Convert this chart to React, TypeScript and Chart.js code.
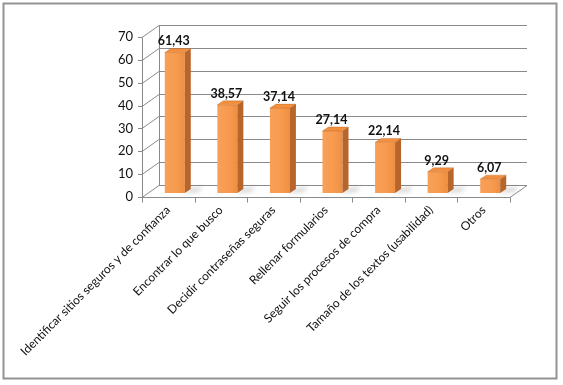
import React, { useEffect, useRef } from "react";
import { Chart, registerables } from "chart.js";

Chart.register(...registerables);

const categories = [
  "Identificar sitios seguros y de confianza",
  "Encontrar lo que busco",
  "Decidir contraseñas seguras",
  "Rellenar formularios",
  "Seguir los procesos de compra",
  "Tamaño de los textos (usabilidad)",
  "Otros",
];
const values = [61.43, 38.57, 37.14, 27.14, 22.14, 9.29, 6.07];
const valueLabels = ["61,43", "38,57", "37,14", "27,14", "22,14", "9,29", "6,07"];
const yMin = 0;
const yMax = 70;
const yStep = 10;

const W = 563;
const H = 385;
const DX = 17;
const DY = -12;
const BOX = 6.5;
const BOY = -4;
const SX = 6;
const SY = -4;
const GRID = "#8a8a8a";
const FONT = "Lato, 'Open Sans', sans-serif";

const threeD = {
  id: "threeD",
  beforeDraw(chart: any) {
    const { ctx, chartArea } = chart;
    const ys = chart.scales.y;
    const { left, right, top, bottom } = chartArea;
    ctx.save();
    // outer frame
    ctx.strokeStyle = "#939393";
    ctx.lineWidth = 2;
    ctx.strokeRect(3.5, 3.5, 553, 375);
    ctx.lineWidth = 1;
    ctx.strokeStyle = GRID;
    // walls & gridlines
    for (let v = yMin; v <= yMax; v += yStep) {
      const y = Math.round(ys.getPixelForValue(v)) + 0.5;
      ctx.beginPath();
      ctx.moveTo(left - 4, y);
      ctx.lineTo(left, y);
      ctx.lineTo(left + DX, y + DY);
      ctx.lineTo(right + DX, y + DY);
      ctx.stroke();
    }
    const lx = Math.round(left) + 0.5;
    ctx.beginPath();
    ctx.moveTo(lx + DX, Math.round(top) + 0.5 + DY);
    ctx.lineTo(lx + DX, Math.round(bottom) + 0.5 + DY);
    ctx.moveTo(lx, Math.round(top) + 0.5);
    ctx.lineTo(lx, Math.round(bottom) + 0.5);
    const by = Math.round(bottom) + 0.5;
    ctx.moveTo(lx, by);
    ctx.lineTo(right, by);
    ctx.lineTo(right + DX, by + DY);
    ctx.stroke();
    // category ticks
    const n = categories.length;
    ctx.beginPath();
    for (let i = 0; i <= n; i++) {
      const x = Math.round(left + (i * (right - left)) / n) + 0.5;
      ctx.moveTo(x, by);
      ctx.lineTo(x, by + 5);
    }
    ctx.stroke();
    ctx.restore();
  },
  beforeDatasetsDraw(chart: any) {
    const { ctx } = chart;
    const meta = chart.getDatasetMeta(0);
    ctx.save();
    // floor shadows
    ctx.filter = "blur(2px)";
    meta.data.forEach((bar: any) => {
      const r = bar.x + bar.width / 2 + BOX;
      const b = bar.base + BOY;
      ctx.fillStyle = "rgba(0,0,0,0.16)";
      ctx.beginPath();
      ctx.moveTo(r - 2, b);
      ctx.lineTo(r + 14, b - 1);
      ctx.lineTo(r + 18, b - 6);
      ctx.lineTo(r + SX, b + SY - 1);
      ctx.closePath();
      ctx.fill();
    });
    ctx.filter = "none";
    ctx.restore();
    ctx.save();
    ctx.translate(BOX, BOY);
  },
  afterDatasetsDraw(chart: any) {
    const { ctx } = chart;
    const meta = chart.getDatasetMeta(0);
    meta.data.forEach((bar: any) => {
      const l = bar.x - bar.width / 2;
      const r = bar.x + bar.width / 2;
      const t = bar.y;
      const b = bar.base;
      const g = ctx.createLinearGradient(l, 0, r, 0);
      g.addColorStop(0, "rgba(255,255,255,0.10)");
      g.addColorStop(0.5, "rgba(255,255,255,0.05)");
      g.addColorStop(1, "rgba(120,50,0,0.08)");
      ctx.fillStyle = g;
      ctx.fillRect(l, t, r - l, b - t);
      ctx.fillStyle = "#B8652C";
      ctx.beginPath();
      ctx.moveTo(r, t);
      ctx.lineTo(r + SX, t + SY);
      ctx.lineTo(r + SX, b + SY);
      ctx.lineTo(r, b);
      ctx.closePath();
      ctx.fill();
      ctx.fillStyle = "#F39040";
      ctx.beginPath();
      ctx.moveTo(l, t);
      ctx.lineTo(l + SX, t + SY);
      ctx.lineTo(r + SX, t + SY);
      ctx.lineTo(r, t);
      ctx.closePath();
      ctx.fill();
      ctx.strokeStyle = "rgba(160,80,20,0.5)";
      ctx.lineWidth = 0.6;
      ctx.stroke();
    });
    ctx.restore();
    ctx.save();
    ctx.font = `bold 12.5px ${FONT}`;
    ctx.fillStyle = "#111";
    ctx.textAlign = "center";
    ctx.textBaseline = "bottom";
    meta.data.forEach((bar: any, i: number) => {
      ctx.fillText(valueLabels[i], bar.x + BOX - 1, bar.y + BOY + SY - 1);
    });
    ctx.restore();
  },
};

export default function App() {
  const ref = useRef<HTMLCanvasElement>(null);
  useEffect(() => {
    if (!ref.current) return;
    const chart = new Chart(ref.current, {
      type: "bar",
      data: {
        labels: categories,
        datasets: [
          {
            data: values,
            backgroundColor: "#F79646",
            borderWidth: 0,
            barPercentage: 0.38,
            categoryPercentage: 1,
          },
        ],
      },
      options: {
        responsive: false,
        animation: false,
        devicePixelRatio: 1,
        layout: { padding: { left: 100, right: 53, top: 37, bottom: 0 } },
        plugins: { legend: { display: false }, tooltip: { enabled: false } },
        scales: {
          x: {
            grid: { display: false, drawTicks: false },
            border: { display: false },
            ticks: {
              autoSkip: false,
              minRotation: 45,
              maxRotation: 45,
              padding: 6,
              color: "#111",
              font: { family: FONT, size: 12 },
            },
            afterFit: (s: any) => {
              s.height = H - 197;
              s.paddingLeft = 0;
              s.paddingRight = 0;
            },
          },
          y: {
            min: yMin,
            max: yMax,
            grid: { display: false, drawTicks: false },
            border: { display: false },
            ticks: {
              stepSize: yStep,
              padding: 9,
              color: "#111",
              font: { family: FONT, size: 13 },
            },
            afterFit: (s: any) => {
              s.width = 42;
              s.paddingTop = 0;
              s.paddingBottom = 0;
            },
          },
        },
      },
      plugins: [threeD],
    });
    return () => chart.destroy();
  }, []);
  return (
    <div style={{ position: "fixed", left: 0, top: 0, width: W, height: H, background: "#fff" }}>
      <canvas ref={ref} width={W} height={H} style={{ display: "block" }} />
    </div>
  );
}
